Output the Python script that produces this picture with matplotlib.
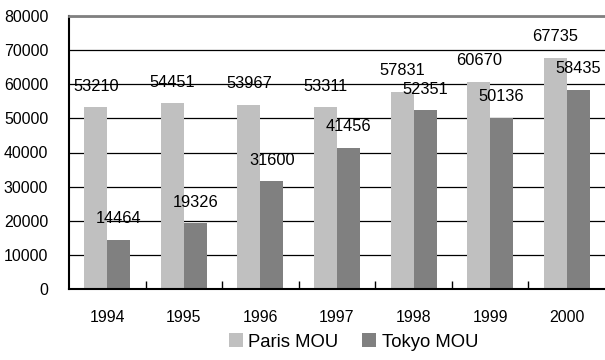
import numpy as np
import matplotlib
matplotlib.use('Agg')
import matplotlib.pyplot as plt
from matplotlib import rcParams
rcParams['font.family'] = ['Liberation Sans', 'DejaVu Sans']
rcParams['font.size'] = 11

years = ['1994', '1995', '1996', '1997', '1998', '1999', '2000']
paris = [53210, 54451, 53967, 53311, 57831, 60670, 67735]
tokyo = [14464, 19326, 31600, 41456, 52351, 50136, 58435]

fig = plt.figure(figsize=(6.05, 3.6), dpi=100)
ax = fig.add_axes([69/605, 1 - 289/360, 536/605, 273/360])

x = np.arange(len(years))
w = 0.3
b1 = ax.bar(x - w/2, paris, w, color='#c0c0c0', label='Paris MOU', zorder=2)
b2 = ax.bar(x + w/2, tokyo, w, color='#808080', label='Tokyo MOU', zorder=2)

# value labels sit a fixed distance above each bar
for bars, vals in ((b1, paris), (b2, tokyo)):
    for r, v in zip(bars, vals):
        ax.annotate(str(v), (r.get_x() + r.get_width()/2, v), xytext=(0, 21),
                    textcoords='offset pixels', ha='center', va='center',
                    fontsize=11.8, zorder=3)

ax.set_xlim(-0.5, len(years) - 0.5)
ax.set_ylim(0, 80000)
ax.set_yticks(np.arange(0, 80001, 10000))
ax.yaxis.grid(True, color='black', lw=0.9, zorder=1)
ax.set_axisbelow(True)

ax.set_xticks(x)
ax.set_xticklabels(years, fontsize=11.4)
ax.tick_params(axis='x', length=0, pad=15)
ax.set_xticks(np.arange(0.5, len(years) - 1, 1), minor=True)
ax.tick_params(axis='x', which='minor', direction='in', length=6, width=1, color='black')
ax.tick_params(axis='y', length=0, pad=15, labelsize=11.4)

ax.spines['right'].set_visible(False)
ax.spines['top'].set_color('#808080')
ax.spines['top'].set_linewidth(2)
ax.spines['left'].set_linewidth(1.5)
ax.spines['bottom'].set_linewidth(1.5)

fig.legend(handles=[b1, b2], loc='center', bbox_to_anchor=(0.584, 0.05), ncol=2,
           frameon=False, fontsize=13.3, handlelength=0.75, handleheight=0.75,
           handletextpad=0.3, columnspacing=1.3, borderpad=0)

fig.savefig('out.png', dpi=100)
